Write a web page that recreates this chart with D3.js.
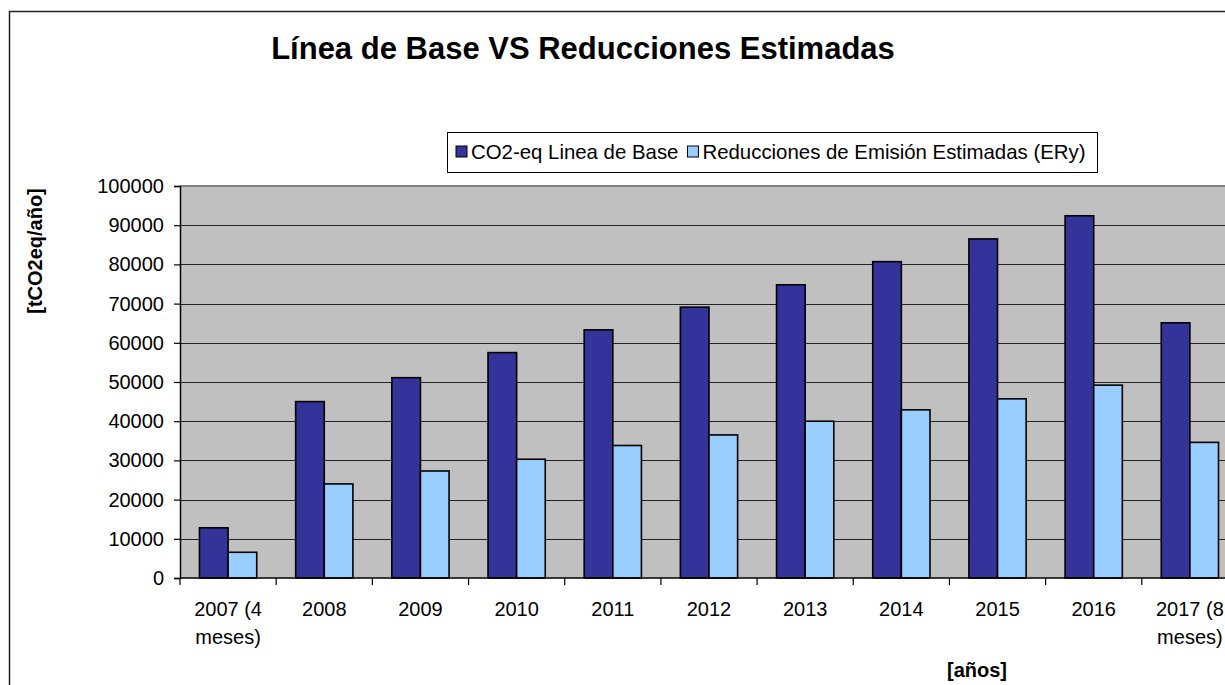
<!DOCTYPE html>
<html>
<head>
<meta charset="utf-8">
<style>
    body { margin: 0; background: #fff; }
    svg { display: block; font-family: "Liberation Sans", Arial, sans-serif; }
</style>
<script src="https://cdn.jsdelivr.net/npm/d3@7/dist/d3.min.js"></script>
</head>
<body>
<div id="chart"></div>
<script>
'use strict';

var categories = ['2007 (4 meses)', '2008', '2009', '2010', '2011', '2012',
                  '2013', '2014', '2015', '2016', '2017 (8 meses)'];
var seriesNames = ['CO2-eq Linea de Base', 'Reducciones de Emisi\u00f3n Estimadas (ERy)'];
var lineaBase = [12800, 45000, 51100, 57500, 63300, 69100, 74800, 80700, 86500, 92400, 65100];
var reducciones = [6560, 24000, 27300, 30300, 33800, 36500, 40000, 42900, 45700, 49200, 34600];
var yTicks = [0, 10000, 20000, 30000, 40000, 50000, 60000, 70000, 80000, 90000, 100000];
var colors = ['#333399', '#99ccff'];

var width = 1225,
    height = 685,
    plot = { left: 180, top: 186, bottom: 578, step: 96.18 },
    plotRight = plot.left + plot.step * categories.length;

var svg = d3.select('#chart').append('svg')
    .attr('width', width)
    .attr('height', height);

// chart frame (runs off the picture on right and bottom)
svg.append('rect')
    .attr('x', 9.5).attr('y', 11.5)
    .attr('width', 1400).attr('height', 800)
    .attr('fill', '#fff')
    .attr('stroke', '#222')
    .attr('stroke-width', 1.5);

var x = d3.scaleBand()
    .domain(categories)
    .range([plot.left, plotRight])
    .padding(0);

var xInner = d3.scaleBand()
    .domain(seriesNames)
    .range([0, x.bandwidth()])
    .paddingInner(0)
    .paddingOuter(0.68);

var y = d3.scaleLinear()
    .domain([0, 100000])
    .range([plot.bottom, plot.top]);

// plot area
svg.append('rect')
    .attr('x', plot.left).attr('y', plot.top)
    .attr('width', plotRight - plot.left)
    .attr('height', plot.bottom - plot.top)
    .attr('fill', '#c0c0c0');

svg.append('g').selectAll('line')
    .data(yTicks.filter(function (d) { return d > 0 && d < 100000; }))
    .enter().append('line')
    .attr('x1', plot.left).attr('x2', plotRight)
    .attr('y1', function (d) { return Math.round(y(d)) + 0.5; })
    .attr('y2', function (d) { return Math.round(y(d)) + 0.5; })
    .attr('stroke', '#222')
    .attr('stroke-width', 1.2);

svg.append('line')
    .attr('x1', plot.left).attr('x2', plotRight)
    .attr('y1', plot.top).attr('y2', plot.top)
    .attr('stroke', '#808080')
    .attr('stroke-width', 2);

// bars
var data = categories.map(function (c, i) {
    return { cat: c, values: [lineaBase[i], reducciones[i]] };
});

var groups = svg.append('g').selectAll('g')
    .data(data)
    .enter().append('g')
    .attr('transform', function (d) { return 'translate(' + x(d.cat) + ',0)'; });

groups.selectAll('rect')
    .data(function (d) {
        return d.values.map(function (v, j) { return { name: seriesNames[j], value: v, j: j }; });
    })
    .enter().append('rect')
    .attr('x', function (d) { return xInner(d.name); })
    .attr('y', function (d) { return y(d.value); })
    .attr('width', xInner.bandwidth())
    .attr('height', function (d) { return plot.bottom - y(d.value); })
    .attr('fill', function (d) { return colors[d.j]; })
    .attr('stroke', '#000')
    .attr('stroke-width', 1.6);

// y axis
var yAxis = d3.axisLeft(y)
    .tickValues(yTicks)
    .tickFormat(d3.format('d'))
    .tickSize(6)
    .tickPadding(10);

var gy = svg.append('g')
    .attr('transform', 'translate(' + plot.left + ',0)')
    .call(yAxis);
gy.select('.domain').attr('stroke', '#000').attr('stroke-width', 1.5);
gy.selectAll('.tick line').attr('stroke', '#000').attr('stroke-width', 1.2);
gy.selectAll('.tick text')
    .attr('font-size', 20)
    .attr('font-family', '"Liberation Sans", Arial, sans-serif')
    .attr('fill', '#000');

// x axis
svg.append('line')
    .attr('x1', plot.left).attr('x2', plotRight)
    .attr('y1', plot.bottom).attr('y2', plot.bottom)
    .attr('stroke', '#000').attr('stroke-width', 1.5);

svg.append('g').selectAll('line')
    .data(categories.concat(['end']))
    .enter().append('line')
    .attr('x1', function (d, i) { return plot.left + i * x.step(); })
    .attr('x2', function (d, i) { return plot.left + i * x.step(); })
    .attr('y1', plot.bottom).attr('y2', plot.bottom + 7)
    .attr('stroke', '#000').attr('stroke-width', 1.2);

var xLabels = svg.append('g').selectAll('text')
    .data(categories)
    .enter().append('text')
    .attr('x', function (d) { return x(d) + x.bandwidth() / 2; })
    .attr('y', 616)
    .attr('text-anchor', 'middle')
    .attr('font-size', 20)
    .attr('fill', '#000');

// wrap long labels into lines like the spreadsheet does
xLabels.each(function (d) {
    var text = d3.select(this),
        words = d.split(' '),
        line = [],
        tspan = text.append('tspan').attr('x', text.attr('x')).attr('dy', 0);
    words.forEach(function (w) {
        line.push(w);
        tspan.text(line.join(' '));
        if (tspan.node().getComputedTextLength() > x.step() - 6 && line.length > 1) {
            line.pop();
            tspan.text(line.join(' '));
            line = [w];
            tspan = text.append('tspan')
                .attr('x', text.attr('x'))
                .attr('dy', 27.5)
                .text(w);
        }
    });
});

// titles
svg.append('text')
    .attr('x', 583).attr('y', 59)
    .attr('text-anchor', 'middle')
    .attr('font-size', 31)
    .attr('font-weight', 'bold')
    .text('L\u00ednea de Base VS Reducciones Estimadas');

svg.append('text')
    .attr('transform', 'translate(42,251) rotate(-90)')
    .attr('text-anchor', 'middle')
    .attr('font-size', 20)
    .attr('font-weight', 'bold')
    .text('[tCO2eq/a\u00f1o]');

svg.append('text')
    .attr('x', 977).attr('y', 677)
    .attr('text-anchor', 'middle')
    .attr('font-size', 20)
    .attr('font-weight', 'bold')
    .text('[a\u00f1os]');

// legend
var legend = svg.append('g');
legend.append('rect')
    .attr('x', 447.5).attr('y', 132.5)
    .attr('width', 650).attr('height', 40)
    .attr('fill', '#fff')
    .attr('stroke', '#000')
    .attr('stroke-width', 1);

var lx = 456;
seriesNames.forEach(function (name, i) {
    legend.append('rect')
        .attr('x', lx).attr('y', 146)
        .attr('width', 11).attr('height', 11)
        .attr('fill', colors[i])
        .attr('stroke', '#000')
        .attr('stroke-width', 1);
    var t = legend.append('text')
        .attr('x', lx + 15).attr('y', 159)
        .attr('font-size', 20.4)
        .text(name);
    lx += 15 + t.node().getComputedTextLength() + 9;
});
</script>
</body>
</html>
